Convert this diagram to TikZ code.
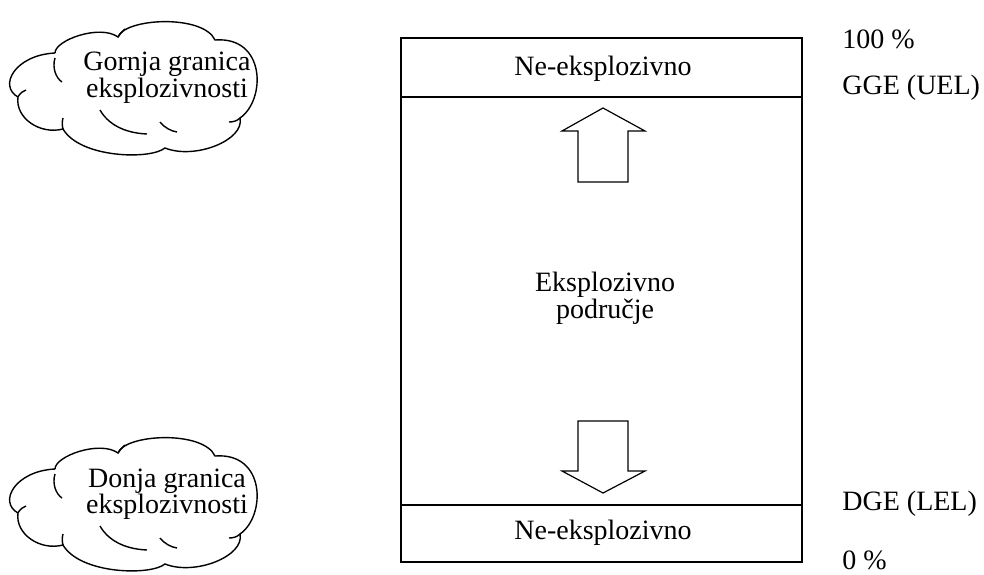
\documentclass[tikz,border=0pt]{standalone}
\usepackage{fontspec}
\setmainfont{Liberation Serif}

\begin{document}
\begin{tikzpicture}[x=0.5pt,y=-0.5pt,
  tekst/.style={font=\fontsize{14}{13.3}\selectfont,align=center,inner sep=0pt},
  okvir/.style={line width=1.3pt},
  pregrada/.style={line width=1.1pt},
  strelica/.style={line width=0.6pt,line join=miter},
  oblak/.pic={
    \draw[line width=0.7pt] (55,53) .. controls (55,40) and (100,24) .. (118,37)
      .. controls (125,18) and (203,14) .. (215,40)
      .. controls (266,36) and (266,100) .. (240,118)
      .. controls (245,140) and (195,160) .. (165,148)
      .. controls (150,160) and (80,158) .. (63,129)
      .. controls (40,135) and (15,118) .. (18,97)
      .. controls (-2,86) and (15,55) .. (55,53);
    % unutarnji lukovi
    \draw[line width=0.7pt] (55,58) .. controls (52,68) and (56,78) .. (62,82);
    \draw[line width=0.7pt] (18,97) .. controls (20,93) and (23,91) .. (26,90);
    \draw[line width=0.7pt] (63,129) .. controls (62,125) and (62,122) .. (63,118);
    \draw[line width=0.7pt] (100,110) .. controls (108,124) and (124,133) .. (147,134);
    \draw[line width=0.7pt] (160,122) .. controls (165,128) and (171,131) .. (177,132);
    \draw[line width=0.7pt] (240,118) .. controls (237,121) and (233,122) .. (229,122);
    \draw[line width=0.7pt] (118,37) .. controls (120,34) and (122,31) .. (125,29);
  }]
\useasboundingbox (0,0) rectangle (984,574);

\foreach \dy/\rijec/\ime in {0/Gornja/gornja, 416/Donja/donja} {
  \pic at (0,\dy) {oblak};
  \node[tekst] (\ime) at (167,78+\dy) {\rijec\ granica\\eksplozivnosti};
}

\draw[okvir] (401,38) rectangle (802,562);
\draw[pregrada] (401,97) -- (802,97);
\draw[pregrada] (401,505) -- (802,505);
\node[tekst] (gornjiNe) at (603,69) {Ne-eksplozivno};
\node[tekst] (donjiNe) at (603,533) {Ne-eksplozivno};
\node[tekst] (sredina) at (605,298) {Eksplozivno\\područje};

\draw[strelica] (578,182) -- (578,131) -- (562,131) -- (603,108) -- (645,131)
  -- (628,131) -- (628,182) -- cycle;
\draw[strelica] (578,421) -- (628,421) -- (628,471) -- (645,471) -- (603,493)
  -- (562,471) -- (578,471) -- cycle;

\node[tekst,anchor=west] (sto) at (842,39) {100 \%};
\node[tekst,anchor=west] (gge) at (842,88) {GGE (UEL)};
\node[tekst,anchor=west] (dge) at (842,504) {DGE (LEL)};
\node[tekst,anchor=west] (nula) at (842,560) {0 \%};
\end{tikzpicture}
\end{document}
